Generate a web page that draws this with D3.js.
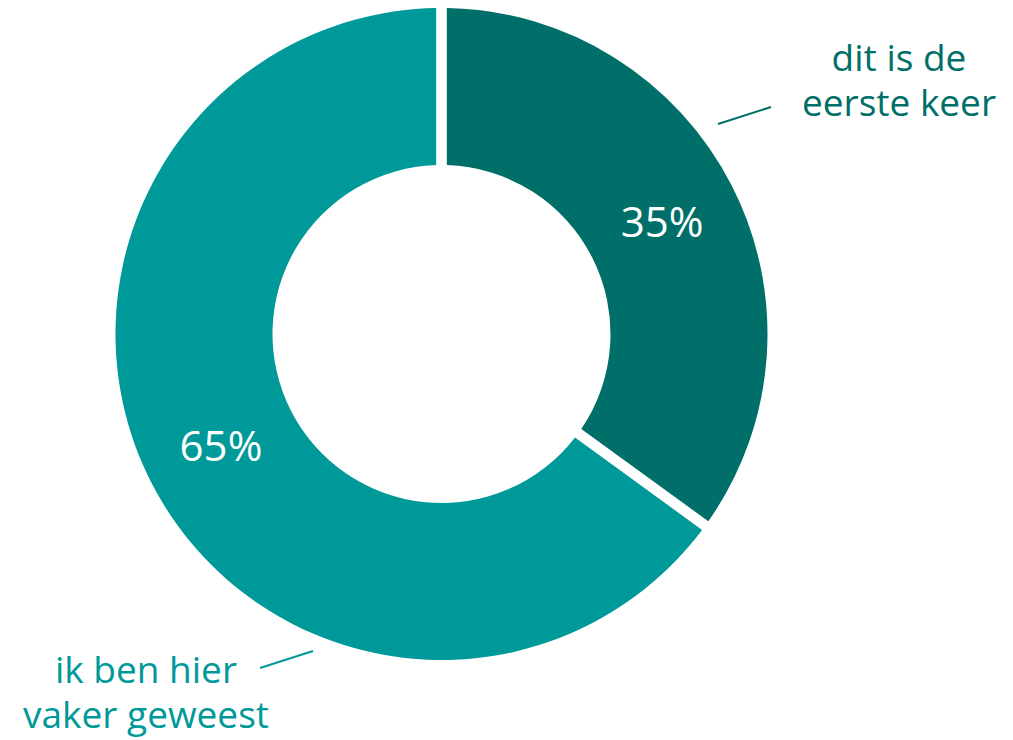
<!DOCTYPE html>
<html><head><meta charset="utf-8">
<script src="https://cdn.jsdelivr.net/npm/d3@7"></script>
<style>html,body{margin:0;padding:0;background:#fff;}svg{display:block;font-family:"Open Sans",sans-serif;}</style>
</head><body>
<svg id="chart" width="1013" height="740"></svg>
<script>
const categories = ["dit is de eerste keer", "ik ben hier vaker geweest"];
const labelLines = [["dit is de", "eerste keer"], ["ik ben hier", "vaker geweest"]];
const values = [35, 65];
const colors = ["#006F69", "#009999"];

const svg = d3.select("#chart");
const cx = 441.5, cy = 334, outerR = 326, innerR = 169;
const g = svg.append("g").attr("transform", `translate(${cx},${cy})`);

const pie = d3.pie().sort(null).value(d => d.v);
const data = pie(values.map((v, i) => ({v, i, cat: categories[i]})));
const arc = d3.arc().innerRadius(innerR).outerRadius(outerR).padAngle(0.029);

g.selectAll("path.slice").data(data).join("path")
  .attr("class", "slice")
  .attr("d", arc)
  .attr("fill", d => colors[d.data.i]);

const mid = d3.arc().innerRadius((innerR + outerR) / 2).outerRadius((innerR + outerR) / 2);
g.selectAll("text.pct").data(data).join("text")
  .attr("class", "pct")
  .attr("x", d => mid.centroid(d)[0])
  .attr("y", d => mid.centroid(d)[1])
  .attr("dy", "0.36em")
  .attr("text-anchor", "middle")
  .attr("fill", "#fff")
  .attr("font-size", 42)
  .text(d => d3.format(".0%")(d.data.v / 100));

// leader lines and outside labels
const leaders = [
  {x1: 718, y1: 124, x2: 771, y2: 107},
  {x1: 260, y1: 668, x2: 313, y2: 651}
];
const labelPos = [{x: 899, y: 71}, {x: 146, y: 683}];
leaders.forEach((l, i) => {
  svg.append("line").attr("x1", l.x1).attr("y1", l.y1).attr("x2", l.x2).attr("y2", l.y2)
    .attr("stroke", colors[i]).attr("stroke-width", 2);
  const t = svg.append("text")
    .attr("x", labelPos[i].x).attr("y", labelPos[i].y)
    .attr("text-anchor", "middle")
    .attr("fill", colors[i])
    .attr("font-size", 37);
  labelLines[i].forEach((s, j) => {
    t.append("tspan").attr("x", labelPos[i].x).attr("dy", j === 0 ? 0 : 45).text(s);
  });
});
</script>
</body></html>
